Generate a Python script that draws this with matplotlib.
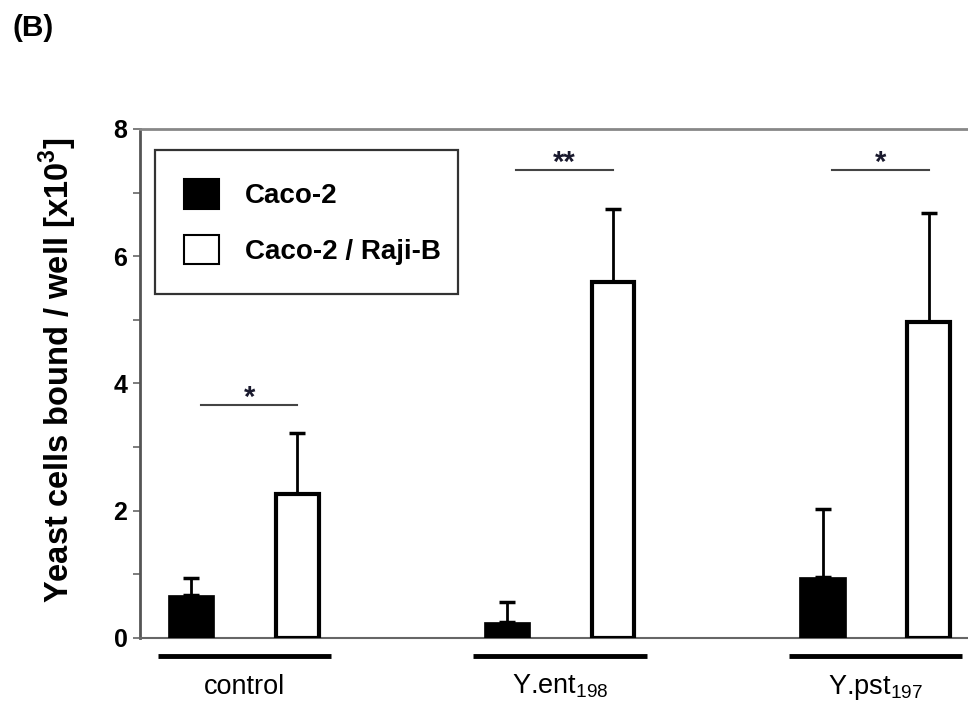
import numpy as np
import matplotlib.pyplot as plt

plt.rcParams['font.family'] = ['Liberation Sans', 'DejaVu Sans']
plt.rcParams['mathtext.fontset'] = 'custom'
plt.rcParams['mathtext.rm'] = 'Liberation Sans'
plt.rcParams['mathtext.bf'] = 'Liberation Sans:bold'

groups = ['control', 'Y.ent$_{\\mathregular{198}}$', 'Y.pst$_{\\mathregular{197}}$']
caco = [0.67, 0.25, 0.96]
caco_err = [0.28, 0.32, 1.07]
raji = [2.26, 5.60, 4.97]
raji_err = [0.96, 1.14, 1.71]
sig_y = [3.66, 7.36, 7.36]
sig_txt = ['*', '**', '*']

x = np.arange(len(groups))
off = 0.168

fig = plt.figure(figsize=(9.68, 7.04), dpi=100)
ax = fig.add_axes([0.1446, 0.0938, 0.8554, 0.723])

ax.bar(x - off, caco, 0.146, color='black', edgecolor='black', linewidth=0.5,
       label='Caco-2', zorder=3)
ax.bar(x + off, raji, 0.134, color='white', edgecolor='black', linewidth=3,
       label='Caco-2 / Raji-B', zorder=3)
ax.errorbar(x - off, caco, yerr=[np.zeros(3), caco_err], fmt='none',
            ecolor='black', elinewidth=2, capsize=6, capthick=2.5, zorder=2)
ax.errorbar(x + off, raji, yerr=[np.zeros(3), raji_err], fmt='none',
            ecolor='black', elinewidth=2, capsize=6, capthick=2.5, zorder=2)

# significance bars
for i in range(len(groups)):
    x0, x1 = x[i] - off + 0.03, x[i] + off
    ax.plot([x0, x1], [sig_y[i], sig_y[i]], color='#444444', lw=1.5)
    ax.text((x0 + x1) / 2, sig_y[i] - 0.02, sig_txt[i], ha='center',
            va='baseline', fontsize=21, fontweight='bold', color='#1a1a2e')

# group underline bars and labels
for i in range(len(groups)):
    ax.plot([x[i] - 0.275, x[i] + 0.275], [-0.28, -0.28], color='black',
            lw=3.5, clip_on=False, solid_capstyle='butt')
    ax.text(x[i], -0.88, groups[i], ha='center', va='baseline', fontsize=19.5)

ax.set_xlim(-0.331, 2.293)
ax.set_ylim(0, 8)
ax.set_xticks([])
ax.set_yticks([0, 2, 4, 6, 8])
ax.set_yticks([1, 3, 5, 7], minor=True)
ax.tick_params(axis='y', which='both', length=5, color='#666666', width=1.2,
               labelsize=18, pad=4)
for lab in ax.get_yticklabels():
    lab.set_fontweight('bold')

ax.spines['right'].set_visible(False)
ax.spines['left'].set_color('#555555')
ax.spines['left'].set_linewidth(2)
ax.spines['top'].set_color('#888888')
ax.spines['top'].set_linewidth(2)
ax.spines['bottom'].set_color('#666666')
ax.spines['bottom'].set_linewidth(1.5)

ax.set_ylabel('Yeast cells bound / well [x10$^{\\mathbf{3}}$]', fontsize=23.5,
              fontweight='bold')
ax.yaxis.set_label_coords(-0.074, 0.527)

leg = ax.legend(loc='upper left', bbox_to_anchor=(0.0181, 0.6587, 0.366, 0.3),
                mode='expand',
                prop={'weight': 'bold', 'size': 20},
                frameon=True, fancybox=False, edgecolor='black',
                handlelength=1.25, handleheight=1.25, handletextpad=0.95,
                borderpad=1.05, labelspacing=0.93, borderaxespad=0)
leg.get_frame().set_linewidth(1.6)
for h in leg.legend_handles:
    h.set_linewidth(1.5)

fig.text(0.0134, 0.960, '(B)', fontsize=21.5, fontweight='bold', va='center')

fig.savefig('out.png', dpi=100)
